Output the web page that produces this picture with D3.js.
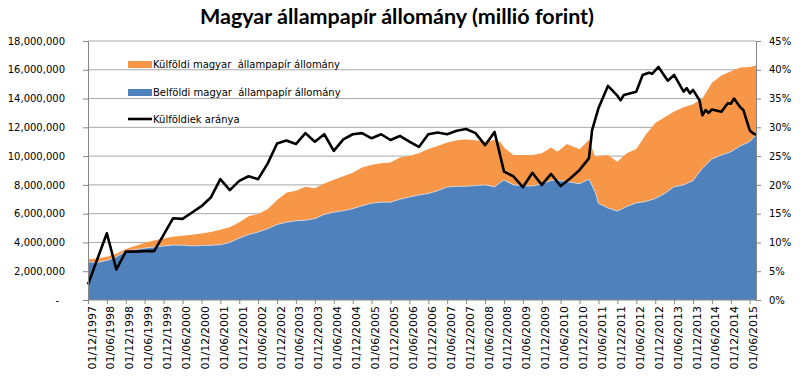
<!DOCTYPE html>
<html><head><meta charset="utf-8">
<script src="https://cdn.jsdelivr.net/npm/d3@7"></script>
<style>body{margin:0;background:#fff}svg{display:block}</style>
</head><body>
<svg id="chart" width="800" height="376"></svg>
<script>
// ---- data ----
const title = "Magyar állampapír állomány (millió forint)";
const seriesNames = ["Külföldi magyar  állampapír állomány", "Belföldi magyar  állampapír állomány", "Külföldiek aránya"];

const areaDates = ["1997-12","1998-03","1998-06","1998-09","1998-12","1999-03","1999-06","1999-09","1999-12",
"2000-03","2000-06","2000-09","2000-12","2001-03","2001-06","2001-09","2001-12","2002-03","2002-06","2002-09","2002-12",
"2003-03","2003-06","2003-09","2003-12","2004-03","2004-06","2004-09","2004-12","2005-03","2005-06","2005-09","2005-12",
"2006-03","2006-06","2006-09","2006-12","2007-03","2007-06","2007-09","2007-12","2008-03","2008-06","2008-09","2008-11","2008-12",
"2009-03","2009-06","2009-09","2009-12","2010-03","2010-05","2010-08","2010-12","2011-03","2011-05","2011-06","2011-09","2011-12",
"2012-03","2012-06","2012-09","2012-12","2013-03","2013-06","2013-09","2013-12","2014-03","2014-06","2014-09","2014-12",
"2015-03","2015-06","2015-08"];

const domestic = [2650000,2600000,2750000,3000000,3400000,3500000,3600000,3680000,3750000,
3820000,3800000,3760000,3780000,3800000,3840000,4000000,4300000,4550000,4720000,4950000,5250000,
5400000,5500000,5550000,5650000,5950000,6100000,6200000,6350000,6550000,6720000,6800000,6800000,
7000000,7150000,7300000,7400000,7600000,7850000,7900000,7900000,7950000,8000000,7870000,8200000,8340000,
8000000,7950000,7920000,8060000,8300000,8340000,8220000,8080000,8400000,7500000,6720000,6400000,6180000,
6500000,6750000,6850000,7050000,7400000,7870000,8000000,8300000,9150000,9800000,10070000,10300000,
10700000,11000000,11470000];

const foreign = [180000,280000,250000,220000,150000,250000,380000,460000,530000,
580000,670000,780000,840000,920000,1040000,1050000,1100000,1270000,1260000,1350000,1700000,
2060000,2100000,2320000,2110000,2150000,2250000,2400000,2500000,2650000,2680000,2700000,2750000,
2900000,2850000,2900000,3100000,3100000,3100000,3200000,3250000,3150000,3000000,3250000,2750000,2260000,
2070000,2120000,2150000,2140000,2300000,1960000,2620000,2390000,2720000,2460000,3280000,3670000,3430000,
3700000,3750000,4650000,5250000,5300000,5230000,5400000,5300000,4850000,5300000,5530000,5600000,
5450000,5200000,4830000];

const lineDates = ["1997-12","1998-06","1998-09","1998-12","1999-03","1999-06","1999-09","1999-12",
"2000-03","2000-06","2000-09","2000-12","2001-03","2001-06","2001-09","2001-12","2002-03","2002-06","2002-09","2002-12",
"2003-03","2003-06","2003-09","2003-12","2004-03","2004-06","2004-09","2004-12","2005-03","2005-06","2005-09","2005-12",
"2006-03","2006-06","2006-09","2006-12","2007-03","2007-06","2007-09","2007-12","2008-03","2008-06","2008-09","2008-12",
"2009-03","2009-06","2009-09","2009-12","2010-03","2010-06","2010-09","2010-12","2011-03","2011-04","2011-06","2011-09",
"2011-12","2012-01","2012-02","2012-06","2012-08","2012-10","2012-11","2013-01","2013-04","2013-06","2013-09","2013-10",
"2013-11","2013-12","2014-02","2014-03","2014-04","2014-05","2014-06","2014-09","2014-11","2014-12","2015-01","2015-03",
"2015-04","2015-06","2015-07","2015-08"];

const foreignShare = [2.7,11.6,5.3,8.4,8.4,8.5,8.5,11.3,
14.2,14.1,15.2,16.3,17.8,21.0,19.1,20.7,21.5,21.0,23.7,27.2,
27.7,27.1,29.0,27.5,28.8,25.9,27.9,28.8,29.0,28.1,28.8,27.8,
28.5,27.5,26.6,28.8,29.1,28.8,29.4,29.7,29.0,26.9,29.2,22.3,
21.5,19.6,22.1,20.0,21.9,19.8,21.1,22.6,24.6,29.5,33.3,37.2,
35.5,34.7,35.6,36.2,39.1,39.5,39.3,40.5,38.1,39.1,36.2,36.8,
35.9,36.5,34.7,32.1,33.0,32.5,33.1,32.7,34.2,34.1,35.0,33.5,
33.0,29.5,29.0,28.7];

const yTicks = [0,2000000,4000000,6000000,8000000,10000000,12000000,14000000,16000000,18000000];
const y2Ticks = [0,5,10,15,20,25,30,35,40,45];
const xTickStart = "1997-12", xTickEnd = "2015-06", xTickStepMonths = 6;

// ---- chart ----
const parse = d3.timeParse("%Y-%m");
const svg = d3.select("#chart");
const L = 88, R = 756, T = 41, B = 300;

const x = d3.scaleTime().domain([parse("1997-12"), parse("2015-08")]).range([L, R]);
const y = d3.scaleLinear().domain([0, 18000000]).range([B, T]);
const y2 = d3.scaleLinear().domain([0, 45]).range([B, T]);

// gridlines
svg.append("g").selectAll("line").data(yTicks.filter(d => d > 0)).join("line")
  .attr("x1", L).attr("x2", R).attr("y1", d => y(d)).attr("y2", d => y(d))
  .attr("stroke", "#a8a8a8").attr("stroke-width", 1);

// stacked areas
const rows = areaDates.map((d, i) => ({date: parse(d), dom: domestic[i], fgn: foreign[i]}));
const stack = d3.stack().keys(["dom", "fgn"])(rows);
const area = d3.area().x(d => x(d.data.date)).y0(d => y(d[0])).y1(d => y(d[1]));
svg.append("path").datum(stack[1]).attr("d", area).attr("fill", "#F79646");
svg.append("path").datum(stack[0]).attr("d", area).attr("fill", "#4F81BD");
svg.append("path").datum(stack[0])
  .attr("d", d3.line().x(d => x(d.data.date)).y(d => y(d[1])))
  .attr("fill", "none").attr("stroke", "#e8eef6").attr("stroke-width", 0.8).attr("opacity", 0.8);

// share line
const lineRows = lineDates.map((d, i) => ({date: parse(d), v: foreignShare[i]}));
svg.append("path").datum(lineRows)
  .attr("d", d3.line().x(d => x(d.date)).y(d => y2(d.v)))
  .attr("fill", "none").attr("stroke", "#000").attr("stroke-width", 2.6).attr("stroke-linejoin", "round");

// axes
const axisColor = "#868686";
const gl = svg.append("g").attr("transform", `translate(${L},0)`)
  .call(d3.axisLeft(y).tickValues(yTicks).tickSize(5).tickPadding(18)
    .tickFormat(d => d === 0 ? "-" : d3.format(",")(d)));
gl.selectAll("text").filter(d => d === 0).attr("dx", -6);

const gr = svg.append("g").attr("transform", `translate(${R},0)`)
  .call(d3.axisRight(y2).tickValues(y2Ticks).tickSize(5).tickPadding(8).tickFormat(d => d + "%"));

const xTicks = d3.timeMonth.range(parse(xTickStart), d3.timeMonth.offset(parse(xTickEnd), 1), xTickStepMonths);
const gb = svg.append("g").attr("transform", `translate(0,${B})`)
  .call(d3.axisBottom(x).tickValues(xTicks).tickSize(4).tickFormat(""));
gb.select(".domain").attr("d", `M${L},0H${R}`);

[gl, gr, gb].forEach(g => {
  g.select(".domain").attr("stroke", axisColor);
  g.selectAll(".tick line").attr("stroke", axisColor);
  g.selectAll("text").attr("font-family", "DejaVu Sans").attr("font-size", 10).attr("fill", "#000");
});

const fmt = d3.timeFormat("%d/%m/%Y");
svg.append("g").selectAll("text").data(xTicks).join("text")
  .attr("transform", d => `translate(${x(d) + 7.5},306) rotate(-90)`)
  .attr("text-anchor", "end").attr("font-family", "DejaVu Sans").attr("font-size", 11)
  .text(d => fmt(d));

// title
svg.append("text").attr("x", 397).attr("y", 24).attr("text-anchor", "middle")
  .attr("font-family", "Lato").attr("font-weight", "bold").attr("font-size", 21.5).text(title);

// legend
const lg = svg.append("g").attr("font-family", "DejaVu Sans").attr("font-size", 10);
lg.append("rect").attr("x", 128).attr("y", 61).attr("width", 24).attr("height", 7).attr("fill", "#F79646");
lg.append("text").attr("x", 153).attr("y", 68).text(seriesNames[0]).style("white-space", "pre").attr("xml:space", "preserve");
lg.append("rect").attr("x", 128).attr("y", 89).attr("width", 24).attr("height", 7).attr("fill", "#4F81BD");
lg.append("text").attr("x", 153).attr("y", 96).text(seriesNames[1]).style("white-space", "pre").attr("xml:space", "preserve");
lg.append("line").attr("x1", 128).attr("x2", 152).attr("y1", 119).attr("y2", 119).attr("stroke", "#000").attr("stroke-width", 2.6);
lg.append("text").attr("x", 153).attr("y", 123).text(seriesNames[2]);
</script>
</body></html>
